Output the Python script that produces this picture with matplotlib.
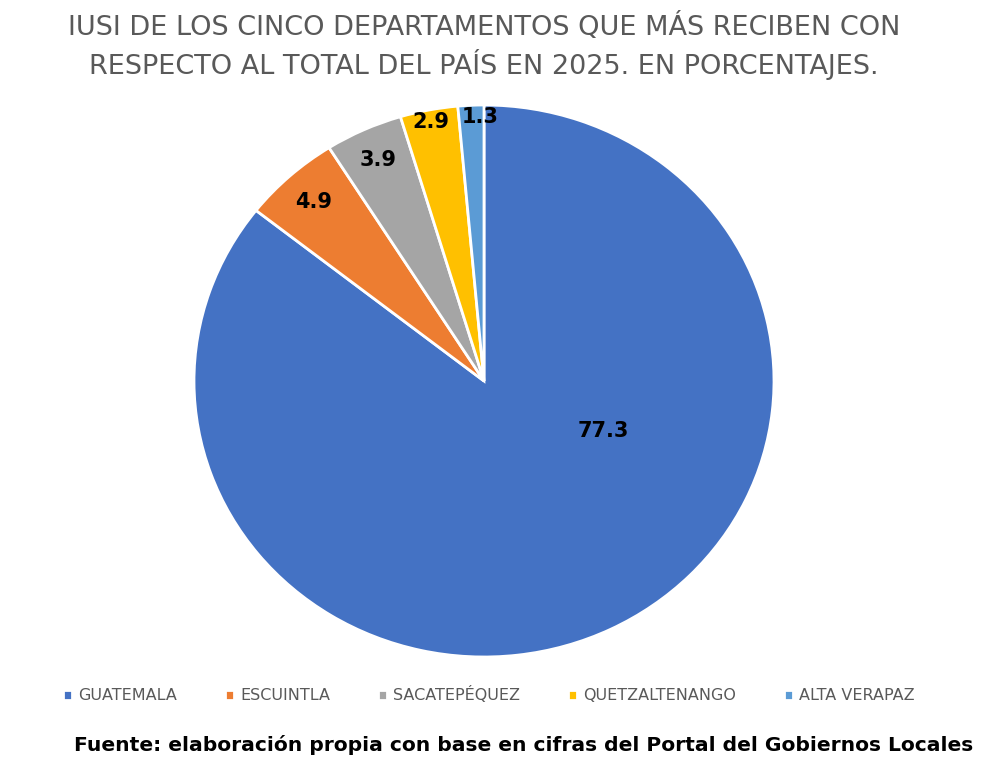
import numpy as np
import matplotlib
matplotlib.use("Agg")
import matplotlib.pyplot as plt

# data
departamentos = ["GUATEMALA", "ESCUINTLA", "SACATEPÉQUEZ", "QUETZALTENANGO", "ALTA VERAPAZ"]
porcentajes = [77.3, 4.9, 3.9, 2.9, 1.3]
colores = ["#4472C4", "#ED7D31", "#A5A5A5", "#FFC000", "#5B9BD5"]

# label radius (fraction of radius) per slice, like excel puts them
dist_etiqueta = [0.45, 0.875, 0.88, 0.955, 0.957]

fig = plt.figure(figsize=(9.88, 7.64), dpi=100)
ax = fig.add_axes([194 / 988, 107 / 764, 580 / 988, 552 / 764])

wedges, textos = ax.pie(porcentajes, colors=colores, startangle=90, counterclock=False,
                        labels=[f"{v:.1f}" for v in porcentajes], labeldistance=None,
                        wedgeprops=dict(edgecolor="white", linewidth=2))

# place the value labels
for i, w in enumerate(wedges):
    ang = np.deg2rad((w.theta1 + w.theta2) / 2)
    if i == 0:
        ang = np.deg2rad(-23.5)  # big slice label sits off to the right
    r = dist_etiqueta[i]
    x, y = r * np.cos(ang), r * np.sin(ang)
    if i == 4:
        x += 0.03
    ax.text(x, y, f"{porcentajes[i]:.1f}", ha="center", va="center",
            fontsize=15, fontweight="bold", color="black")

ax.set_xlim(-1, 1)
ax.set_ylim(-1, 1)
ax.set_aspect("auto")
ax.axis("off")

fig.text(0.49, 1 - 27 / 764,
         "IUSI DE LOS CINCO DEPARTAMENTOS QUE MÁS RECIBEN CON",
         ha="center", va="center", fontsize=19.5, color="#595959")
fig.text(0.49, 1 - 65 / 764,
         "RESPECTO AL TOTAL DEL PAÍS EN 2025. EN PORCENTAJES.",
         ha="center", va="center", fontsize=19.5, color="#595959")

leg = fig.legend(wedges, departamentos, loc="center", bbox_to_anchor=(0.495, 1 - 695 / 764),
                 ncol=5, frameon=False, fontsize=11.5, handlelength=0.55, handleheight=0.55,
                 handletextpad=0.4, columnspacing=3.0)
for t in leg.get_texts():
    t.set_color("#595959")

fig.text(0.53, 1 - 745 / 764,
         "Fuente: elaboración propia con base en cifras del Portal del Gobiernos Locales",
         ha="center", va="center", fontsize=14.6, fontweight="bold", color="black")

fig.savefig("out.png", dpi=100)
